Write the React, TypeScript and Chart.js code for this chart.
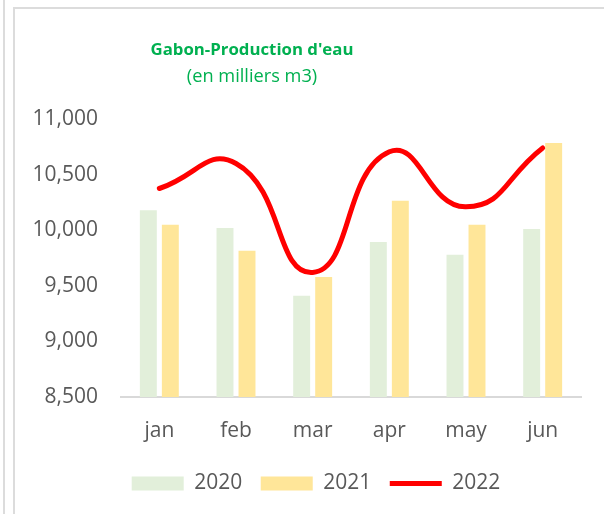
import React, { useEffect, useRef } from "react";
import { Chart, registerables } from "chart.js";

Chart.register(...registerables);

const months = ["jan", "feb", "mar", "apr", "may", "jun"];
const prod2020 = [10180, 10020, 9410, 9895, 9780, 10010];
const prod2021 = [10050, 9815, 9580, 10265, 10050, 10785];
const prod2022 = [10375, 10600, 9620, 10705, 10210, 10740];
const seriesLabels = ["2020", "2021", "2022"];
const titleText = "Gabon-Production d'eau";
const subtitleText = "(en milliers m3)";

const FONT = "'Open Sans', sans-serif";
const TEXT_GREY = "#595959";
const GREEN = "#00B050";

export default function App() {
  const canvasRef = useRef<HTMLCanvasElement | null>(null);

  useEffect(() => {
    if (!canvasRef.current) return;
    const chart = new Chart(canvasRef.current, {
      type: "bar",
      data: {
        labels: months,
        datasets: [
          {
            type: "line",
            label: seriesLabels[2],
            data: prod2022,
            borderColor: "#FF0000",
            backgroundColor: "#FF0000",
            borderWidth: 5,
            borderCapStyle: "round",
            tension: 0.5,
            pointRadius: 0,
            pointHoverRadius: 0,
            pointStyle: "line",
            order: 0,
          } as any,
          {
            label: seriesLabels[0],
            data: prod2020,
            backgroundColor: "#E2EFDA",
            borderWidth: 0,
            pointStyle: "rect",
            categoryPercentage: 0.574,
            barPercentage: 0.77,
            order: 1,
          } as any,
          {
            label: seriesLabels[1],
            data: prod2021,
            backgroundColor: "#FFE699",
            borderWidth: 0,
            pointStyle: "rect",
            categoryPercentage: 0.574,
            barPercentage: 0.77,
            order: 2,
          } as any,
        ],
      },
      options: {
        animation: false,
        responsive: false,
        maintainAspectRatio: false,
        layout: { padding: { left: 20, right: 0, top: 119, bottom: 10 } },
        scales: {
          x: {
            grid: { display: false, drawTicks: false },
            border: { display: true, color: "#D9D9D9", width: 2 },
            ticks: {
              color: TEXT_GREY,
              font: { family: FONT, size: 21 },
              padding: 21,
            },
            afterFit: (s: any) => {
              s.height = 57.5;
            },
          },
          y: {
            min: 8500,
            max: 11000,
            grid: { display: false, drawTicks: false },
            border: { display: false },
            ticks: {
              stepSize: 500,
              color: TEXT_GREY,
              font: { family: FONT, size: 21 },
              padding: 23,
              callback: (v: any) => Number(v).toLocaleString("en-US"),
            },
            afterFit: (s: any) => {
              s.width = 101;
            },
          },
          yRight: {
            position: "right",
            display: true,
            grid: { display: false, drawTicks: false },
            border: { display: false },
            ticks: { display: false },
            afterFit: (s: any) => {
              s.width = 31;
            },
          },
        },
        plugins: {
          title: { display: false },
          tooltip: { enabled: false },
          legend: {
            position: "bottom",
            labels: {
              usePointStyle: true,
              pointStyleWidth: 52,
              boxHeight: 14,
              padding: 18.5,
              color: TEXT_GREY,
              font: { family: FONT, size: 21 },
              sort: (a: any, b: any) => a.text.localeCompare(b.text),
            },
          },
        },
      },
    });
    return () => chart.destroy();
  }, []);

  return (
    <div
      style={{
        position: "fixed",
        left: 0,
        top: 0,
        width: 604,
        height: 514,
        overflow: "hidden",
        background: "#fff",
      }}
    >
      <div
        style={{
          position: "absolute",
          left: 3,
          top: 0,
          width: 2,
          height: 514,
          background: "#DCDCDC",
        }}
      />
      <div
        style={{
          position: "absolute",
          left: 13,
          top: 7,
          width: 700,
          height: 600,
          borderLeft: "2px solid #DCDCDC",
          borderTop: "2px solid #DCDCDC",
        }}
      />
      <canvas
        ref={canvasRef}
        width={612}
        height={514}
        style={{ position: "absolute", left: 0, top: 0, width: 612, height: 514 }}
      />
      <div
        style={{
          position: "absolute",
          left: 52,
          width: 400,
          top: 36,
          textAlign: "center",
          fontFamily: FONT,
          color: GREEN,
          lineHeight: "26px",
          whiteSpace: "nowrap",
        }}
      >
        <div style={{ fontWeight: 700, fontSize: 16.8 }}>{titleText}</div>
        <div style={{ fontWeight: 400, fontSize: 18.2 }}>{subtitleText}</div>
      </div>
    </div>
  );
}
